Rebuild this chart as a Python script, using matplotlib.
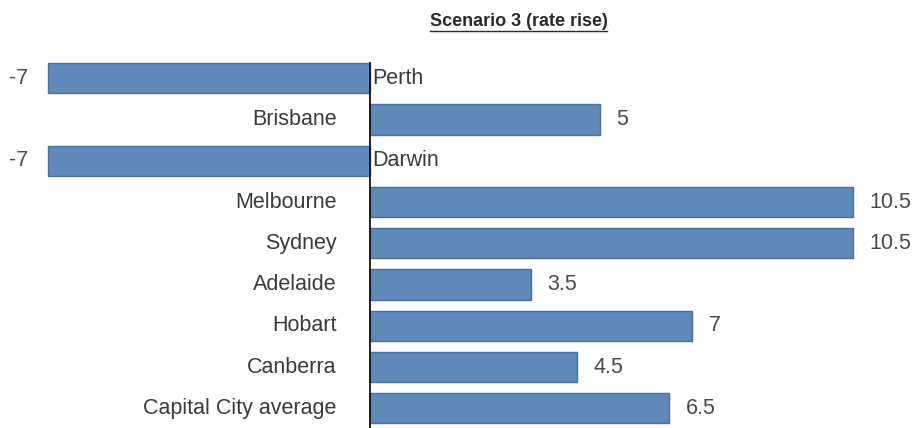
import matplotlib
matplotlib.use("Agg")
import matplotlib.pyplot as plt
from matplotlib.lines import Line2D

# Data
cities = ["Perth", "Brisbane", "Darwin", "Melbourne", "Sydney",
          "Adelaide", "Hobart", "Canberra", "Capital City average"]
values = [-7, 5, -7, 10.5, 10.5, 3.5, 7, 4.5, 6.5]
value_labels = ["-7", "5", "-7", "10.5", "10.5", "3.5", "7", "4.5", "6.5"]
title = "Scenario 3 (rate rise)"

W, H, DPI = 922, 428, 100
fig = plt.figure(figsize=(W / DPI, H / DPI), dpi=DPI)
ax = fig.add_axes([0, 0, 1, 1])

bar_color = "#5f89ba"
edge_color = "#4a6f99"
text_color = "#3a3a3a"
font = ["Liberation Sans", "DejaVu Sans"]
fs = 15.5

pos = list(range(len(cities)))
ax.barh(pos, values, height=0.73, color=bar_color, edgecolor=edge_color,
        linewidth=1.0, zorder=2)

# zero axis
ax.plot([0, 0], [-0.37, 9.0], color="#111111", linewidth=1.3, zorder=3)

for i, (c, v, lbl) in enumerate(zip(cities, values, value_labels)):
    if v >= 0:
        ax.annotate(c, (0, i), xytext=(-24, 0), textcoords="offset points",
                    ha="right", va="center", fontsize=fs, family=font,
                    color=text_color)
        ax.annotate(lbl, (v, i), xytext=(12, 0), textcoords="offset points",
                    ha="left", va="center", fontsize=fs, family=font,
                    color="#4a4a4a")
    else:
        ax.annotate(c, (0, i), xytext=(1.5, 0), textcoords="offset points",
                    ha="left", va="center", fontsize=fs, family=font,
                    color=text_color)
        ax.annotate(lbl, (v, i), xytext=(-14, 0), textcoords="offset points",
                    ha="right", va="center", fontsize=fs, family=font,
                    color="#4a4a4a")

ax.set_xlim(-370 / 46, (W - 370) / 46)
ax.set_ylim((H - 78.3) / 41.25, -78.3 / 41.25)
ax.axis("off")

# title with underline
t = fig.text(518.5 / W, 1 - 21 / H, title, ha="center", va="center",
             fontsize=13, fontweight="bold",
             family=["Liberation Sans Narrow", "Liberation Sans", "DejaVu Sans"],
             color="#2a2a2a")
fig.canvas.draw()
bb = t.get_window_extent(renderer=fig.canvas.get_renderer())
uy = 1 - 30.5 / H
fig.add_artist(Line2D([bb.x0 / W, bb.x1 / W], [uy, uy], color="#2a2a2a",
                      linewidth=1.0, transform=fig.transFigure))

fig.savefig("out.png", dpi=DPI, facecolor="white")
